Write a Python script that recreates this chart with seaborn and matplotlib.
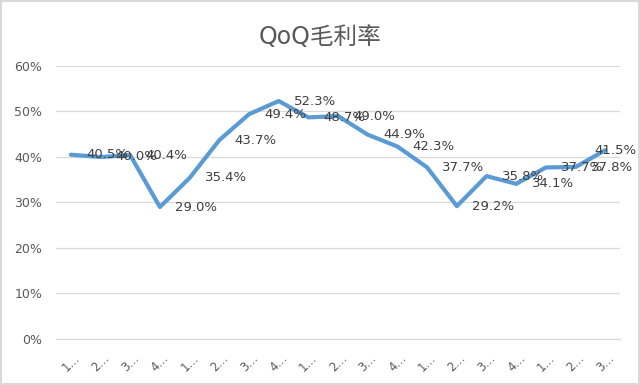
"""
QoQ gross margin line chart.
"""

import matplotlib
matplotlib.use("Agg")
import matplotlib.pyplot as plt
import seaborn as sns
import pandas as pd
from matplotlib.ticker import FuncFormatter

# Data
quarters = ["1…", "2…", "3…", "4…", "1…", "2…", "3…", "4…", "1…", "2…",
            "3…", "4…", "1…", "2…", "3…", "4…", "1…", "2…", "3…"]
margin_pct = [40.5, 40.0, 40.4, 29.0, 35.4, 43.7, 49.4, 52.3, 48.7, 49.0,
              44.9, 42.3, 37.7, 29.2, 35.8, 34.1, 37.7, 37.8, 41.5]
y_ticks = [0, 10, 20, 30, 40, 50, 60]
title = "QoQ毛利率"

# Style settings
sns.set_style("white")
plt.rcParams['font.family'] = ['DejaVu Sans', 'Noto Sans CJK SC']

line_color = '#5B9BD5'
text_gray = '#595959'
grid_gray = '#d9d9d9'

df = pd.DataFrame({'pos': range(len(margin_pct)), 'margin': margin_pct})

fig = plt.figure(figsize=(6.4, 3.85), dpi=100, edgecolor=grid_gray, linewidth=1.5)
ax = fig.add_axes([0.0875, 0.1195, 0.8815, 0.7091])

sns.lineplot(data=df, x='pos', y='margin', ax=ax, color=line_color,
             linewidth=3, solid_capstyle='round', solid_joinstyle='round')

# Data labels to the right of each point
for i, v in enumerate(margin_pct):
    if i == len(margin_pct) - 1:
        offset = (-8, 0)
    else:
        offset = (11, 0)
    ax.annotate(f"{v:.1f}%", (i, v), xytext=offset, textcoords='offset points',
                ha='left', va='center', fontsize=9.5, color='#404040')

ax.set_xlim(-0.5, len(quarters) - 0.5)
ax.set_ylim(0, 60)
ax.set_yticks(y_ticks)
ax.yaxis.set_major_formatter(FuncFormatter(lambda v, _: f"{v:.0f}%"))
ax.set_xticks(range(len(quarters)))
ax.set_xticklabels(quarters, rotation=45, ha='center')

ax.tick_params(axis='y', length=0, pad=10, labelsize=9, labelcolor=text_gray)
ax.tick_params(axis='x', length=0, pad=9, labelsize=8.5, labelcolor=text_gray)
ax.grid(True, axis='y', color=grid_gray, linewidth=0.9)
ax.grid(False, axis='x')
ax.set_axisbelow(True)
for side in ['top', 'right', 'left']:
    ax.spines[side].set_visible(False)
ax.spines['bottom'].set_color(grid_gray)
ax.spines['bottom'].set_linewidth(0.9)
ax.set_xlabel("")
ax.set_ylabel("")

fig.text(0.5, 1 - 37 / 385, title, ha='center', va='center',
         fontsize=17, color=text_gray)

fig.savefig("out.png", dpi=100, edgecolor=fig.get_edgecolor())
